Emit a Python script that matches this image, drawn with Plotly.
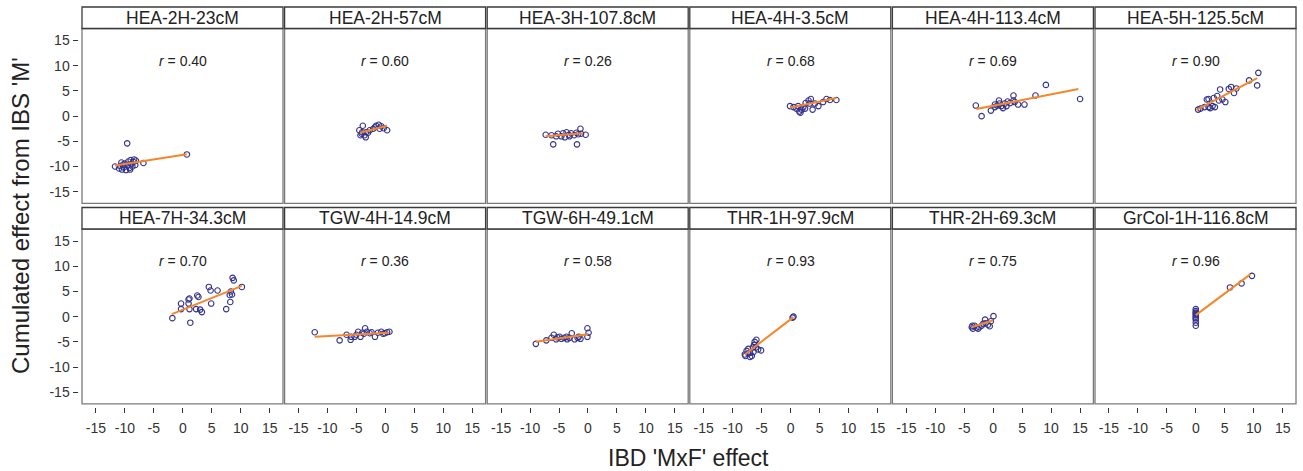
import plotly.graph_objects as go

# ---------------- data ----------------
panel_names = ["HEA-2H-23cM", "HEA-2H-57cM", "HEA-3H-107.8cM", "HEA-4H-3.5cM",
               "HEA-4H-113.4cM", "HEA-5H-125.5cM", "HEA-7H-34.3cM", "TGW-4H-14.9cM",
               "TGW-6H-49.1cM", "THR-1H-97.9cM", "THR-2H-69.3cM", "GrCol-1H-116.8cM"]
r_values = ["0.40", "0.60", "0.26", "0.68", "0.69", "0.90",
            "0.70", "0.36", "0.58", "0.93", "0.75", "0.96"]
tick_vals = [-15, -10, -5, 0, 5, 10, 15]
tick_text = ["-15", "-10", "-5", "0", "5", "10", "15"]

hea_2h_23_x = [-11.7, -11.0, -10.8, -10.5, -10.3, -10.2, -10.0, -9.8, -9.6, -9.5, -9.4, -9.2,
               -9.0, -8.9, -8.7, -8.5, -8.4, -8.2, -8.1, -6.8, 0.7, -10.6, -9.1]
hea_2h_23_y = [-10.0, -10.4, -9.9, -10.6, -9.6, -10.2, -9.4, -10.7, -5.4, -9.8, -9.0, -10.3,
               -8.7, -9.5, -10.0, -9.1, -8.6, -9.7, -8.8, -9.3, -7.6, -9.2, -10.6]
hea_2h_57_x = [-3.9, -4.5, -4.1, -3.6, -3.4, -1.6, -1.15, -0.7, 0.3, -0.3, -2.7, -2.1,
               -3.3, -4.0, -3.0, -1.8, -4.3, -1.0]
hea_2h_57_y = [-1.9, -2.8, -3.5, -3.8, -4.2, -1.9, -1.7, -2.0, -2.8, -2.4, -2.8, -2.5,
               -3.2, -3.2, -3.3, -2.2, -3.8, -2.5]
hea_3h_107_x = [-7.3, -6.0, -1.9, -1.3, -0.4, -6.3, -5.2, -4.6, -4.0, -3.7, -3.3, -2.9,
                -2.4, -2.0, -4.3, -3.2, -1.7, -5.5, -1.2]
hea_3h_107_y = [-3.7, -5.6, -5.6, -2.5, -3.7, -3.8, -3.5, -4.0, -4.2, -3.2, -3.7, -3.4,
                -3.8, -3.3, -3.4, -4.0, -3.6, -4.0, -3.5]
hea_4h_3_x = [-0.1, 0.5, 1.0, 1.5, 1.7, 1.3, 2.2, 2.6, 3.1, 3.5, 3.3, 3.8, 4.8, 5.6, 6.2,
              6.8, 7.9, 2.5, 1.9, 4.2]
hea_4h_3_y = [2.0, 1.8, 1.5, 0.9, 0.7, 2.0, 1.8, 2.6, 3.1, 3.4, 2.5, 1.3, 2.0, 2.8, 3.4,
              3.2, 3.2, 1.5, 1.3, 2.5]
hea_4h_113_x = [-3.0, -2.0, -0.4, 0.3, 1.0, 1.4, 1.7, 2.0, 2.5, 3.5, 3.5, 4.3, 5.4, 7.3,
                9.1, 15.0, 0.7, 1.1, 2.9, 3.7, 2.3, 0.3]
hea_4h_113_y = [2.1, 0.0, 1.1, 2.3, 3.1, 2.0, 1.6, 2.5, 2.9, 4.1, 3.1, 2.3, 2.3, 4.1,
                6.2, 3.4, 2.1, 2.5, 2.6, 2.8, 2.0, 1.8]
hea_5h_125_x = [0.4, 0.8, 1.5, 1.9, 2.2, 2.5, 2.9, 3.3, 3.1, 3.7, 4.2, 4.6, 5.1, 5.7, 6.1,
                6.6, 7.0, 9.2, 10.6, 10.8, 4.0, 2.2]
hea_5h_125_y = [1.3, 1.5, 1.8, 3.3, 1.8, 1.6, 2.0, 1.8, 3.6, 4.0, 5.3, 3.3, 2.8, 5.4, 5.8,
                4.6, 5.5, 7.1, 6.1, 8.6, 3.1, 3.4]
hea_7h_34_x = [-1.8, -0.3, -0.3, 1.0, 1.15, 1.0, 1.15, 1.3, 2.3, 2.5, 2.7, 3.0, 3.3, 4.5,
               4.8, 4.9, 6.0, 7.5, 8.2, 8.1, 8.5, 8.6, 8.8, 8.3, 10.2]
hea_7h_34_y = [-0.3, 1.5, 2.6, 3.4, 3.6, 2.6, 1.5, -1.2, 1.5, 4.2, 3.9, 1.4, 0.9, 5.9,
               5.2, 2.6, 5.2, 1.5, 2.9, 4.3, 4.4, 7.7, 7.2, 5.0, 5.9]
tgw_4h_14_x = [-12.2, -7.9, -6.7, -6.0, -5.9, -5.3, -4.7, -4.3, -4.0, -3.5, -3.2, -2.7,
               -1.8, -1.3, -0.7, -0.1, 0.3, 0.7, -5.0, -3.7, -2.4, -0.4]
tgw_4h_14_y = [-3.1, -4.7, -3.6, -4.6, -4.0, -4.0, -3.0, -4.0, -3.2, -2.3, -3.0, -3.3,
               -4.0, -3.2, -3.0, -3.3, -3.1, -3.0, -3.6, -3.4, -3.1, -3.4]
tgw_6h_49_x = [-9.0, -7.2, -6.3, -5.9, -5.3, -4.6, -4.1, -3.6, -3.2, -2.8, -2.3, -1.8,
               -1.3, -0.1, 0.1, -0.1, -4.9, -3.7, -1.6, -5.5]
tgw_6h_49_y = [-5.4, -4.7, -4.2, -3.6, -4.1, -4.4, -4.2, -4.5, -4.2, -3.3, -4.5, -4.2,
               -4.4, -2.3, -3.2, -4.0, -4.0, -4.0, -4.0, -4.5]
thr_1h_97_x = [0.5, 0.35, -5.9, -6.2, -6.3, -7.9, -7.6, -7.3, -7.0, -6.7, -7.0, -6.4,
               -6.0, -5.1, -5.6, -7.3, -6.5, -7.8]
thr_1h_97_y = [0.0, -0.2, -4.6, -5.0, -5.6, -7.5, -6.8, -6.4, -7.2, -7.8, -8.0, -7.0,
               -6.1, -6.7, -6.5, -7.3, -6.1, -7.8]
thr_2h_69_x = [0.05, -3.7, -3.5, -3.2, -2.9, -2.4, -2.0, -1.4, -1.3, -0.9, -0.6, -0.4,
               -3.6, -1.7, -2.6]
thr_2h_69_y = [0.1, -2.1, -2.4, -1.8, -2.2, -2.1, -1.8, -0.6, -1.3, -1.6, -1.9, -0.9,
               -1.8, -1.4, -2.4]
grcol_1h_116_x = [0.0, 0.0, 0.0, 0.0, 0.0, 0.0, 0.0, 0.0, 0.0, 5.9, 7.9, 9.7, 0.0]
grcol_1h_116_y = [1.5, 1.1, 0.8, 0.3, 0.0, -0.3, -1.2, -1.8, 0.6, 5.8, 6.6, 8.1, -0.6]

# fitted regression lines (end points)
fit_x = [[-11.7, 0.7], [-4.4, 0.3], [-7.3, -0.9], [-0.1, 7.9], [-2.9, 14.7], [0.1, 10.6],
         [-1.9, 10.2], [-12.2, 0.6], [-9.0, 0.0], [-7.9, 0.5], [-3.7, 0.0], [0.0, 9.4]]
fit_y = [[-9.8, -7.55], [-3.3, -1.9], [-4.0, -3.4], [1.65, 3.6], [1.4, 5.4], [1.25, 7.55],
         [0.5, 6.1], [-4.0, -3.2], [-5.0, -3.5], [-7.5, -0.1], [-2.1, -0.7], [0.3, 8.4]]

points_x = [hea_2h_23_x, hea_2h_57_x, hea_3h_107_x, hea_4h_3_x, hea_4h_113_x, hea_5h_125_x,
            hea_7h_34_x, tgw_4h_14_x, tgw_6h_49_x, thr_1h_97_x, thr_2h_69_x, grcol_1h_116_x]
points_y = [hea_2h_23_y, hea_2h_57_y, hea_3h_107_y, hea_4h_3_y, hea_4h_113_y, hea_5h_125_y,
            hea_7h_34_y, tgw_4h_14_y, tgw_6h_49_y, thr_1h_97_y, thr_2h_69_y, grcol_1h_116_y]

# ---------------- layout geometry ----------------
W, H = 1303, 471
FONT = "Liberation Sans, Arial, sans-serif"
col_left = [82 + i * 202.6 for i in range(6)]
panel_w = 201
row_top = [28.5, 229.0]
panel_h = 174.8
strip_top = [7.0, 207.5]
x_range = [-17.4, 17.3]
y_range = [-17.3, 17.4]
point_color = "#33338f"
line_color = "#f5872a"

fig = go.Figure()
shapes = []
annotations = []
layout_axes = {}

for k in range(12):
    row, col = divmod(k, 6)
    n = k + 1
    xa = "x" if n == 1 else f"x{n}"
    ya = "y" if n == 1 else f"y{n}"
    x0 = col_left[col]
    x1 = x0 + panel_w
    t = row_top[row]
    b = t + panel_h

    fig.add_trace(go.Scatter(x=points_x[k], y=points_y[k], mode="markers",
                             marker=dict(symbol="circle-open", size=5.5, color=point_color,
                                         line=dict(width=1.1, color=point_color)),
                             xaxis=xa, yaxis=ya, showlegend=False))
    fig.add_trace(go.Scatter(x=fit_x[k], y=fit_y[k], mode="lines",
                             line=dict(color=line_color, width=2),
                             xaxis=xa, yaxis=ya, showlegend=False, hoverinfo="skip"))

    xkey = "xaxis" if n == 1 else f"xaxis{n}"
    ykey = "yaxis" if n == 1 else f"yaxis{n}"
    xdict = dict(domain=[x0 / W, x1 / W], range=x_range, showgrid=False, zeroline=False,
                 showline=False, fixedrange=True)
    ydict = dict(domain=[1 - b / H, 1 - t / H], range=y_range, showgrid=False, zeroline=False,
                 showline=False, fixedrange=True)
    if row == 1:
        xdict.update(anchor="free", position=1 - 407.0 / H, side="bottom",
                     tickmode="array", tickvals=tick_vals, ticktext=tick_text,
                     ticks="outside", ticklen=5, tickwidth=1, tickcolor="#333",
                     ticklabelstandoff=3,
                     tickfont=dict(family=FONT, size=14, color="#333"))
    else:
        xdict.update(anchor=ya, showticklabels=False, ticks="")
    if col == 0:
        ydict.update(anchor="free", position=77.5 / W, side="left",
                     tickmode="array", tickvals=tick_vals, ticktext=tick_text,
                     ticks="outside", ticklen=5, tickwidth=1, tickcolor="#333",
                     tickfont=dict(family=FONT, size=14, color="#333"))
    else:
        ydict.update(anchor=xa, showticklabels=False, ticks="")
    layout_axes[xkey] = xdict
    layout_axes[ykey] = ydict

    # panel frame
    shapes.append(dict(type="rect", xref="paper", yref="paper",
                       x0=x0 / W, x1=x1 / W, y0=1 - b / H, y1=1 - t / H,
                       line=dict(color="#7a7a7a", width=1.3), fillcolor="rgba(0,0,0,0)",
                       layer="above"))
    # strip
    st = strip_top[row]
    shapes.append(dict(type="rect", xref="paper", yref="paper",
                       x0=x0 / W, x1=x1 / W, y0=1 - t / H, y1=1 - st / H,
                       line=dict(color="#3a3a3a", width=1.3), fillcolor="white"))
    annotations.append(dict(text=panel_names[k], xref="paper", yref="paper",
                            x=(x0 + x1) / 2 / W, y=1 - (st + t) / 2 / H,
                            xanchor="center", yanchor="middle", showarrow=False,
                            font=dict(family=FONT, size=17.5, color="#222")))
    # correlation label
    annotations.append(dict(text=f"<i>r</i> = {r_values[k]}", xref=xa, yref=ya,
                            x=0, y=11, xanchor="center", yanchor="middle", showarrow=False,
                            font=dict(family=FONT, size=14, color="#222")))

annotations.append(dict(text="IBD 'MxF' effect", xref="paper", yref="paper",
                        x=688.5 / W, y=1 - 458.0 / H, xanchor="center", yanchor="middle",
                        showarrow=False, font=dict(family=FONT, size=23, color="#222")))
annotations.append(dict(text="Cumulated effect from IBS 'M'", xref="paper", yref="paper",
                        x=20.0 / W, y=1 - 216.0 / H, xanchor="center", yanchor="middle",
                        textangle=-90, showarrow=False,
                        font=dict(family=FONT, size=24, color="#222")))

fig.update_layout(width=W, height=H, autosize=False,
                  margin=dict(l=0, r=0, t=0, b=0, pad=0),
                  paper_bgcolor="white", plot_bgcolor="white",
                  shapes=shapes, annotations=annotations, **layout_axes)

fig.write_html("out.html", config={"displayModeBar": False},
               post_script="document.body.style.margin='0px';"
                           "document.body.style.overflow='hidden';")
